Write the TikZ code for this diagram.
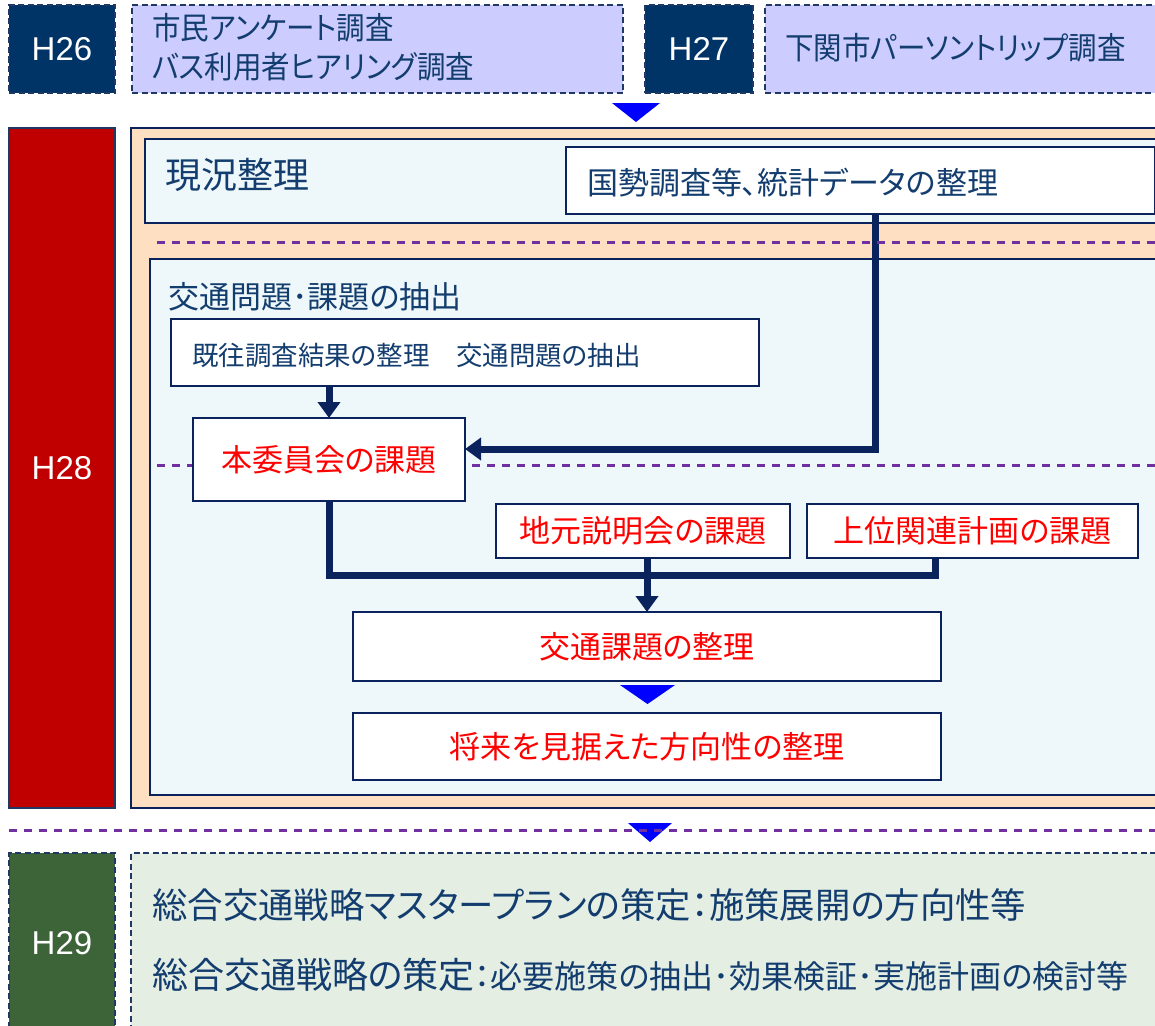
\documentclass[tikz,border=0pt]{standalone}
\usepackage{fontspec}
\setmainfont{Noto Sans CJK JP}[RawFeature={+palt}]
\newfontfamily\narrowf{Noto Sans CJK JP}[RawFeature={+palt}, FakeStretch=0.92]
\newfontfamily\hfont{Liberation Sans}
\usetikzlibrary{arrows.meta,calc}
\definecolor{navy}{HTML}{003366}
\definecolor{lnavy}{HTML}{1F3864}
\definecolor{cnavy}{HTML}{0B235C}
\definecolor{tnavy}{HTML}{123D6E}
\definecolor{lav}{HTML}{CCCCFF}
\definecolor{hred}{HTML}{C00000}
\definecolor{peach}{HTML}{FFDFC1}
\definecolor{pale}{HTML}{EEF7F9}
\definecolor{purp}{HTML}{7030A0}
\definecolor{hgreen}{HTML}{3D6339}
\definecolor{pgreen}{HTML}{E4EEE3}
\definecolor{tblue}{HTML}{0000FF}
\definecolor{tred}{HTML}{FF0000}
\newcommand{\fs}[1]{\fontsize{#1}{#1}\selectfont}
\tikzset{
  base/.style={anchor=north west, inner sep=0pt, outer sep=0pt},
  dashbd/.style={draw=lnavy, line width=1.8pt, dash pattern=on 6pt off 3.5pt},
  yearbox/.style={base, dashbd, text=white, font=\hfont\fs{33}},
  yearsolid/.style={base, draw=lnavy, line width=1.6pt, text=white, font=\hfont\fs{33}},
  survey/.style={base, dashbd, fill=lav},
  panel/.style={base, draw=cnavy, line width=2pt},
  wbox/.style={base, draw=cnavy, line width=2.4pt, fill=white},
  ttext/.style={anchor=west, inner sep=0pt, text=tnavy},
  rtext/.style={text=tred, font=\fs{31}},
  conn/.style={draw=cnavy, line width=7pt, line join=miter},
  arr/.style={-{Triangle[width=22pt,length=16pt]}},
  pdash/.style={draw=purp, line width=3pt, dash pattern=on 8pt off 7pt},
  tri/.style={fill=tblue}
}
\begin{document}
\begin{tikzpicture}[x=1pt,y=-1pt]
\useasboundingbox (0,0) rectangle (1155,1025);
\clip (0,0) rectangle (1155,1025);
% ---- top row
\node[yearbox, fill=navy, minimum width=106pt, minimum height=88pt] (h26) at (9,5) {H26};
\node[survey, minimum width=491pt, minimum height=88pt] (s1) at (132,5) {};
\node[ttext, font=\narrowf\fs{31}] (s1a) at (152,28) {市民アンケート調査};
\node[ttext, font=\narrowf\fs{31}] (s1b) at (152,67) {バス利用者ヒアリング調査};
\node[yearbox, fill=navy, minimum width=108pt, minimum height=88pt] (h27) at (645,5) {H27};
\node[survey, minimum width=420pt, minimum height=88pt] (s2) at (765,5) {};
\node[ttext, font=\narrowf\fs{31}] (s2a) at (785,48) {下関市パーソントリップ調査};
\fill[tri] (612,103) -- (660,103) -- (636,122) -- cycle;
% ---- H28 block
\node[yearsolid, fill=hred, minimum width=106pt, minimum height=680pt] (h28) at (9,128) {H28};
\node[panel, fill=peach, minimum width=1040pt, minimum height=680pt] (orange) at (131,128) {};
\node[panel, fill=pale, minimum width=1030pt, minimum height=84pt] (genkyo) at (145,139) {};
\node[ttext, font=\fs{36}] (genkyot) at (165,175) {現況整理};
\node[wbox, minimum width=589pt, minimum height=67pt] (kokusei) at (566,147) {};
\node[ttext, font=\fs{31}] (kokuseit) at (587,183) {国勢調査等、統計データの整理};
\node[panel, fill=pale, minimum width=1020pt, minimum height=536pt] (kotsu) at (150,259) {};
\node[ttext, font=\fs{31}] (kotsut) at (168,297) {交通問題･課題の抽出};
\node[wbox, minimum width=588pt, minimum height=67pt] (kiou) at (171,319) {};
\node[ttext, font=\fs{26.5}] (kiout) at (192,355) {既往調査結果の整理　交通問題の抽出};
\draw[pdash] (157,465) -- (1160,465);
\node[wbox, rtext, minimum width=272pt, minimum height=83pt] (iinkai) at (193,418) {本委員会の課題};
\node[wbox, rtext, minimum width=294pt, minimum height=54pt] (jimoto) at (496,504) {地元説明会の課題};
\node[wbox, rtext, minimum width=331pt, minimum height=54pt] (joui) at (807,504) {上位関連計画の課題};
\node[wbox, rtext, minimum width=588pt, minimum height=69pt] (kadai) at (353,612) {交通課題の整理};
\node[wbox, rtext, minimum width=588pt, minimum height=67pt] (shourai) at (353,713) {将来を見据えた方向性の整理};
% ---- connectors
\coordinate (kx) at (875,449);
\draw[conn, arr] (kokusei.south -| kx) -- (kx) -- (kx -| iinkai.east);
\draw[conn, arr] (kiou.south -| iinkai.north) -- (iinkai.north);
\coordinate (my) at (935,575);
\draw[conn] (iinkai.south) |- (my) -- (my |- joui.south);
\draw[conn, arr] (jimoto.south -| kadai.north) -- (kadai.north);
\fill[tri] ($(kadai.south)+(-27,4)$) -- ($(kadai.south)+(28,4)$) -- ($(kadai.south)+(0.5,23)$) -- cycle;
\draw[pdash] (157,242) -- (1160,242);
% ---- H29 block
\fill[tri] (628,823) -- (672,823) -- (650,842) -- cycle;
\draw[pdash] (9,830) -- (1160,830);
\node[yearbox, fill=hgreen, minimum width=106pt, minimum height=180pt] (h29) at (9,853) {H29};
\node[base, dashbd, fill=pgreen, minimum width=1040pt, minimum height=180pt] (plan) at (131,853) {};
\node[ttext, font=\fs{35.4}] (plana) at (152,905) {総合交通戦略マスタープランの策定：施策展開の方向性等};
\node[ttext, font=\fs{36}] (planb) at (152,975) {総合交通戦略の策定{\fs{32}：必要施策の抽出･効果検証･実施計画の検討等}};
\end{tikzpicture}
\end{document}
